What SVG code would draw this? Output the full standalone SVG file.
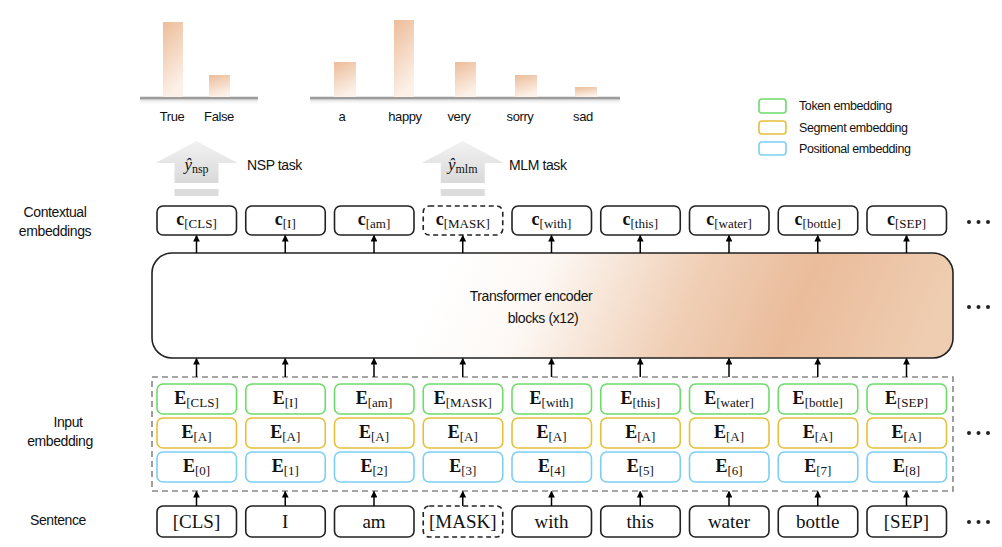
<svg xmlns="http://www.w3.org/2000/svg" width="1002" height="547" viewBox="0 0 1002 547">
<defs>
<linearGradient id="bar" x1="0" y1="0" x2="0.3" y2="1">
<stop offset="0" stop-color="#ecbc99"/>
<stop offset="1" stop-color="#fcf1e8"/>
</linearGradient>
<linearGradient id="tf" gradientUnits="userSpaceOnUse" x1="470" y1="210" x2="900" y2="400">
<stop offset="0" stop-color="#ffffff"/>
<stop offset="0.2" stop-color="#fdf8f4"/>
<stop offset="0.5" stop-color="#f0cfb6"/>
<stop offset="0.72" stop-color="#eabc9b"/>
<stop offset="1" stop-color="#efcdb1"/>
</linearGradient>
<linearGradient id="big" x1="0" y1="0" x2="0" y2="1">
<stop offset="0" stop-color="#f2f2f2"/>
<stop offset="1" stop-color="#d9d9d9"/>
</linearGradient>
<marker id="ah" viewBox="0 0 10 10" refX="9" refY="5" markerWidth="4.5" markerHeight="4.5" orient="auto">
<path d="M0,0 L10,5 L0,10 z" fill="#000"/>
</marker>
<linearGradient id="shadow" x1="0" y1="0" x2="0" y2="1">
<stop offset="0" stop-color="#d4d4d4"/>
<stop offset="1" stop-color="#ffffff" stop-opacity="0"/>
</linearGradient>
</defs>
<style>
.sans{font-family:"Liberation Sans",Arial,sans-serif;fill:#111;letter-spacing:-0.4px}
.lbl{font-size:14px}
.ser{font-family:"Liberation Serif","Times New Roman",serif;fill:#111}
.box{fill:#fff;stroke:#222;stroke-width:1.6}
.dbox{fill:#fff;stroke:#222;stroke-width:1.6;stroke-dasharray:5,3.5}
.tok{fill:#fff;stroke:#6edc6a;stroke-width:1.6}
.seg{fill:#fff;stroke:#e6c03a;stroke-width:1.6}
.pos{fill:#fff;stroke:#7ccff2;stroke-width:1.6}
.arr{stroke:#000;stroke-width:1.5;fill:none;marker-end:url(#ah)}
.sym{font-size:18px;font-weight:bold}
.sub{font-size:13px}
.sent{font-size:19px}
.dots{fill:#222}
</style>

<!-- Bar charts -->
<g id="nsp-chart">
<rect x="140" y="99" width="118" height="6" fill="url(#shadow)"/>
<line x1="140" y1="98" x2="258" y2="98" stroke="#9c9c9c" stroke-width="2.5"/>
<rect x="163" y="22" width="20" height="75" fill="url(#bar)"/>
<rect x="209" y="75" width="21" height="22" fill="url(#bar)"/>
<text x="172" y="121" text-anchor="middle" class="sans" font-size="13">True</text>
<text x="219" y="121" text-anchor="middle" class="sans" font-size="13">False</text>
</g>
<g id="mlm-chart">
<rect x="310" y="99" width="310" height="6" fill="url(#shadow)"/>
<line x1="310" y1="98" x2="620" y2="98" stroke="#9c9c9c" stroke-width="2.5"/>
<rect x="334" y="62" width="22" height="35" fill="url(#bar)"/>
<rect x="394" y="20" width="20" height="77" fill="url(#bar)"/>
<rect x="455" y="62" width="21" height="35" fill="url(#bar)"/>
<rect x="515" y="75" width="22" height="22" fill="url(#bar)"/>
<rect x="575" y="87" width="22" height="10" fill="url(#bar)"/>
<text x="342" y="121" text-anchor="middle" class="sans" font-size="13">a</text>
<text x="405" y="121" text-anchor="middle" class="sans" font-size="13">happy</text>
<text x="459" y="121" text-anchor="middle" class="sans" font-size="13">very</text>
<text x="520" y="121" text-anchor="middle" class="sans" font-size="13">sorry</text>
<text x="583" y="121" text-anchor="middle" class="sans" font-size="13">sad</text>
</g>

<!-- Legend -->
<g id="legend">
<rect x="759" y="99" width="27" height="14" rx="3" class="tok"/>
<rect x="759" y="121" width="27" height="13" rx="3" class="seg"/>
<rect x="759" y="142" width="27" height="13" rx="3" class="pos"/>
<text x="799" y="110" class="sans" font-size="12.5">Token embedding</text>
<text x="799" y="132" class="sans" font-size="12.5">Segment embedding</text>
<text x="799" y="153" class="sans" font-size="12.5">Positional embedding</text>
</g>

<!-- Task arrows -->
<g id="nsp-task">
<path d="M196.5,141 L237.5,163 L218.5,163 L218.5,183 L174.5,183 L174.5,163 L155.5,163 Z" fill="url(#big)"/>
<rect x="174.5" y="189" width="44" height="7" fill="#dcdcdc"/>
<text x="196.5" y="170" text-anchor="middle" class="ser"><tspan font-size="17" font-style="italic">ŷ</tspan><tspan font-size="12" dy="3">nsp</tspan></text>
<text x="247" y="170" class="sans lbl">NSP task</text>
</g>
<g id="mlm-task">
<path d="M462.75,141 L503.75,163 L484.75,163 L484.75,183 L440.75,183 L440.75,163 L421.75,163 Z" fill="url(#big)"/>
<rect x="440.75" y="189" width="44" height="7" fill="#dcdcdc"/>
<text x="462.75" y="170" text-anchor="middle" class="ser"><tspan font-size="17" font-style="italic">ŷ</tspan><tspan font-size="12" dy="3">mlm</tspan></text>
<text x="509" y="170" class="sans lbl">MLM task</text>
</g>

<!-- Row labels -->
<g id="row-labels">
<text x="55" y="217" text-anchor="middle" class="sans lbl">Contextual</text>
<text x="55" y="236" text-anchor="middle" class="sans lbl">embeddings</text>
<text x="68" y="427" text-anchor="middle" class="sans lbl">Input</text>
<text x="60" y="446" text-anchor="middle" class="sans lbl">embedding</text>
<text x="58" y="525" text-anchor="middle" class="sans lbl">Sentence</text>
</g>

<!-- Contextual embeddings -->
<g id="ctx">
<g id="c0"><rect x="157" y="206" width="79.5" height="29" rx="6" class="box"/><text x="196.5" y="225" text-anchor="middle" class="ser"><tspan class="sym">c</tspan><tspan class="sub" dy="3">[CLS]</tspan></text></g>
<g id="c1"><rect x="245.75" y="206" width="79.5" height="29" rx="6" class="box"/><text x="285.25" y="225" text-anchor="middle" class="ser"><tspan class="sym">c</tspan><tspan class="sub" dy="3">[I]</tspan></text></g>
<g id="c2"><rect x="334.5" y="206" width="79.5" height="29" rx="6" class="box"/><text x="374" y="225" text-anchor="middle" class="ser"><tspan class="sym">c</tspan><tspan class="sub" dy="3">[am]</tspan></text></g>
<g id="c3"><rect x="423.25" y="206" width="79.5" height="29" rx="6" class="dbox"/><text x="462.75" y="225" text-anchor="middle" class="ser"><tspan class="sym">c</tspan><tspan class="sub" dy="3">[MASK]</tspan></text></g>
<g id="c4"><rect x="512" y="206" width="79.5" height="29" rx="6" class="box"/><text x="551.5" y="225" text-anchor="middle" class="ser"><tspan class="sym">c</tspan><tspan class="sub" dy="3">[with]</tspan></text></g>
<g id="c5"><rect x="600.75" y="206" width="79.5" height="29" rx="6" class="box"/><text x="640.25" y="225" text-anchor="middle" class="ser"><tspan class="sym">c</tspan><tspan class="sub" dy="3">[this]</tspan></text></g>
<g id="c6"><rect x="689.5" y="206" width="79.5" height="29" rx="6" class="box"/><text x="729" y="225" text-anchor="middle" class="ser"><tspan class="sym">c</tspan><tspan class="sub" dy="3">[water]</tspan></text></g>
<g id="c7"><rect x="778.25" y="206" width="79.5" height="29" rx="6" class="box"/><text x="817.75" y="225" text-anchor="middle" class="ser"><tspan class="sym">c</tspan><tspan class="sub" dy="3">[bottle]</tspan></text></g>
<g id="c8"><rect x="867" y="206" width="79.5" height="29" rx="6" class="box"/><text x="906.5" y="225" text-anchor="middle" class="ser"><tspan class="sym">c</tspan><tspan class="sub" dy="3">[SEP]</tspan></text></g>
</g>

<!-- Transformer -->
<g id="transformer">
<rect x="152" y="253" width="801" height="105" rx="20" fill="url(#tf)" stroke="#222" stroke-width="1.6"/>
<text x="531" y="301" text-anchor="middle" class="sans lbl">Transformer encoder</text>
<text x="543" y="323" text-anchor="middle" class="sans lbl">blocks (x12)</text>
</g>

<!-- Input embeddings -->
<g id="input-embedding">
<rect x="152" y="377" width="801" height="114" fill="none" stroke="#888" stroke-width="1.6" stroke-dasharray="6,4"/>
<g id="e0">
<rect x="157" y="384" width="79.5" height="30" rx="6" class="tok"/><text x="196.5" y="404" text-anchor="middle" class="ser"><tspan class="sym">E</tspan><tspan class="sub" dy="3">[CLS]</tspan></text>
<rect x="157" y="418" width="79.5" height="30" rx="6" class="seg"/><text x="196.5" y="438" text-anchor="middle" class="ser"><tspan class="sym">E</tspan><tspan class="sub" dy="3">[A]</tspan></text>
<rect x="157" y="452" width="79.5" height="30" rx="6" class="pos"/><text x="196.5" y="472" text-anchor="middle" class="ser"><tspan class="sym">E</tspan><tspan class="sub" dy="3">[0]</tspan></text>
</g>
<g id="e1">
<rect x="245.75" y="384" width="79.5" height="30" rx="6" class="tok"/><text x="285.25" y="404" text-anchor="middle" class="ser"><tspan class="sym">E</tspan><tspan class="sub" dy="3">[I]</tspan></text>
<rect x="245.75" y="418" width="79.5" height="30" rx="6" class="seg"/><text x="285.25" y="438" text-anchor="middle" class="ser"><tspan class="sym">E</tspan><tspan class="sub" dy="3">[A]</tspan></text>
<rect x="245.75" y="452" width="79.5" height="30" rx="6" class="pos"/><text x="285.25" y="472" text-anchor="middle" class="ser"><tspan class="sym">E</tspan><tspan class="sub" dy="3">[1]</tspan></text>
</g>
<g id="e2">
<rect x="334.5" y="384" width="79.5" height="30" rx="6" class="tok"/><text x="374" y="404" text-anchor="middle" class="ser"><tspan class="sym">E</tspan><tspan class="sub" dy="3">[am]</tspan></text>
<rect x="334.5" y="418" width="79.5" height="30" rx="6" class="seg"/><text x="374" y="438" text-anchor="middle" class="ser"><tspan class="sym">E</tspan><tspan class="sub" dy="3">[A]</tspan></text>
<rect x="334.5" y="452" width="79.5" height="30" rx="6" class="pos"/><text x="374" y="472" text-anchor="middle" class="ser"><tspan class="sym">E</tspan><tspan class="sub" dy="3">[2]</tspan></text>
</g>
<g id="e3">
<rect x="423.25" y="384" width="79.5" height="30" rx="6" class="tok"/><text x="462.75" y="404" text-anchor="middle" class="ser"><tspan class="sym">E</tspan><tspan class="sub" dy="3">[MASK]</tspan></text>
<rect x="423.25" y="418" width="79.5" height="30" rx="6" class="seg"/><text x="462.75" y="438" text-anchor="middle" class="ser"><tspan class="sym">E</tspan><tspan class="sub" dy="3">[A]</tspan></text>
<rect x="423.25" y="452" width="79.5" height="30" rx="6" class="pos"/><text x="462.75" y="472" text-anchor="middle" class="ser"><tspan class="sym">E</tspan><tspan class="sub" dy="3">[3]</tspan></text>
</g>
<g id="e4">
<rect x="512" y="384" width="79.5" height="30" rx="6" class="tok"/><text x="551.5" y="404" text-anchor="middle" class="ser"><tspan class="sym">E</tspan><tspan class="sub" dy="3">[with]</tspan></text>
<rect x="512" y="418" width="79.5" height="30" rx="6" class="seg"/><text x="551.5" y="438" text-anchor="middle" class="ser"><tspan class="sym">E</tspan><tspan class="sub" dy="3">[A]</tspan></text>
<rect x="512" y="452" width="79.5" height="30" rx="6" class="pos"/><text x="551.5" y="472" text-anchor="middle" class="ser"><tspan class="sym">E</tspan><tspan class="sub" dy="3">[4]</tspan></text>
</g>
<g id="e5">
<rect x="600.75" y="384" width="79.5" height="30" rx="6" class="tok"/><text x="640.25" y="404" text-anchor="middle" class="ser"><tspan class="sym">E</tspan><tspan class="sub" dy="3">[this]</tspan></text>
<rect x="600.75" y="418" width="79.5" height="30" rx="6" class="seg"/><text x="640.25" y="438" text-anchor="middle" class="ser"><tspan class="sym">E</tspan><tspan class="sub" dy="3">[A]</tspan></text>
<rect x="600.75" y="452" width="79.5" height="30" rx="6" class="pos"/><text x="640.25" y="472" text-anchor="middle" class="ser"><tspan class="sym">E</tspan><tspan class="sub" dy="3">[5]</tspan></text>
</g>
<g id="e6">
<rect x="689.5" y="384" width="79.5" height="30" rx="6" class="tok"/><text x="729" y="404" text-anchor="middle" class="ser"><tspan class="sym">E</tspan><tspan class="sub" dy="3">[water]</tspan></text>
<rect x="689.5" y="418" width="79.5" height="30" rx="6" class="seg"/><text x="729" y="438" text-anchor="middle" class="ser"><tspan class="sym">E</tspan><tspan class="sub" dy="3">[A]</tspan></text>
<rect x="689.5" y="452" width="79.5" height="30" rx="6" class="pos"/><text x="729" y="472" text-anchor="middle" class="ser"><tspan class="sym">E</tspan><tspan class="sub" dy="3">[6]</tspan></text>
</g>
<g id="e7">
<rect x="778.25" y="384" width="79.5" height="30" rx="6" class="tok"/><text x="817.75" y="404" text-anchor="middle" class="ser"><tspan class="sym">E</tspan><tspan class="sub" dy="3">[bottle]</tspan></text>
<rect x="778.25" y="418" width="79.5" height="30" rx="6" class="seg"/><text x="817.75" y="438" text-anchor="middle" class="ser"><tspan class="sym">E</tspan><tspan class="sub" dy="3">[A]</tspan></text>
<rect x="778.25" y="452" width="79.5" height="30" rx="6" class="pos"/><text x="817.75" y="472" text-anchor="middle" class="ser"><tspan class="sym">E</tspan><tspan class="sub" dy="3">[7]</tspan></text>
</g>
<g id="e8">
<rect x="867" y="384" width="79.5" height="30" rx="6" class="tok"/><text x="906.5" y="404" text-anchor="middle" class="ser"><tspan class="sym">E</tspan><tspan class="sub" dy="3">[SEP]</tspan></text>
<rect x="867" y="418" width="79.5" height="30" rx="6" class="seg"/><text x="906.5" y="438" text-anchor="middle" class="ser"><tspan class="sym">E</tspan><tspan class="sub" dy="3">[A]</tspan></text>
<rect x="867" y="452" width="79.5" height="30" rx="6" class="pos"/><text x="906.5" y="472" text-anchor="middle" class="ser"><tspan class="sym">E</tspan><tspan class="sub" dy="3">[8]</tspan></text>
</g>
</g>

<!-- Sentence -->
<g id="sentence">
<g id="s0"><rect x="157" y="506" width="79.5" height="31" rx="6" class="box"/><text x="196.5" y="528" text-anchor="middle" class="ser sent">[CLS]</text></g>
<g id="s1"><rect x="245.75" y="506" width="79.5" height="31" rx="6" class="box"/><text x="285.25" y="528" text-anchor="middle" class="ser sent">I</text></g>
<g id="s2"><rect x="334.5" y="506" width="79.5" height="31" rx="6" class="box"/><text x="374" y="528" text-anchor="middle" class="ser sent">am</text></g>
<g id="s3"><rect x="423.25" y="506" width="79.5" height="31" rx="6" class="dbox"/><text x="462.75" y="528" text-anchor="middle" class="ser sent">[MASK]</text></g>
<g id="s4"><rect x="512" y="506" width="79.5" height="31" rx="6" class="box"/><text x="551.5" y="528" text-anchor="middle" class="ser sent">with</text></g>
<g id="s5"><rect x="600.75" y="506" width="79.5" height="31" rx="6" class="box"/><text x="640.25" y="528" text-anchor="middle" class="ser sent">this</text></g>
<g id="s6"><rect x="689.5" y="506" width="79.5" height="31" rx="6" class="box"/><text x="729" y="528" text-anchor="middle" class="ser sent">water</text></g>
<g id="s7"><rect x="778.25" y="506" width="79.5" height="31" rx="6" class="box"/><text x="817.75" y="528" text-anchor="middle" class="ser sent">bottle</text></g>
<g id="s8"><rect x="867" y="506" width="79.5" height="31" rx="6" class="box"/><text x="906.5" y="528" text-anchor="middle" class="ser sent">[SEP]</text></g>
</g>

<!-- Ellipses -->
<g id="ellipses" class="dots">
<circle cx="969" cy="222" r="2"/><circle cx="978.5" cy="222" r="2"/><circle cx="988" cy="222" r="2"/>
<circle cx="969" cy="307" r="2"/><circle cx="978.5" cy="307" r="2"/><circle cx="988" cy="307" r="2"/>
<circle cx="969" cy="433" r="2"/><circle cx="978.5" cy="433" r="2"/><circle cx="988" cy="433" r="2"/>
<circle cx="969" cy="522" r="2"/><circle cx="978.5" cy="522" r="2"/><circle cx="988" cy="522" r="2"/>
</g>

<!-- Connectors -->
<g id="connectors">
<line class="arr" x1="196.5" y1="506" x2="196.5" y2="491.5"/>
<line class="arr" x1="285.25" y1="506" x2="285.25" y2="491.5"/>
<line class="arr" x1="374" y1="506" x2="374" y2="491.5"/>
<line class="arr" x1="462.75" y1="506" x2="462.75" y2="491.5"/>
<line class="arr" x1="551.5" y1="506" x2="551.5" y2="491.5"/>
<line class="arr" x1="640.25" y1="506" x2="640.25" y2="491.5"/>
<line class="arr" x1="729" y1="506" x2="729" y2="491.5"/>
<line class="arr" x1="817.75" y1="506" x2="817.75" y2="491.5"/>
<line class="arr" x1="906.5" y1="506" x2="906.5" y2="491.5"/>

<line class="arr" x1="196.5" y1="377" x2="196.5" y2="358.5"/>
<line class="arr" x1="285.25" y1="377" x2="285.25" y2="358.5"/>
<line class="arr" x1="374" y1="377" x2="374" y2="358.5"/>
<line class="arr" x1="462.75" y1="377" x2="462.75" y2="358.5"/>
<line class="arr" x1="551.5" y1="377" x2="551.5" y2="358.5"/>
<line class="arr" x1="640.25" y1="377" x2="640.25" y2="358.5"/>
<line class="arr" x1="729" y1="377" x2="729" y2="358.5"/>
<line class="arr" x1="817.75" y1="377" x2="817.75" y2="358.5"/>
<line class="arr" x1="906.5" y1="377" x2="906.5" y2="358.5"/>

<line class="arr" x1="196.5" y1="253" x2="196.5" y2="235.5"/>
<line class="arr" x1="285.25" y1="253" x2="285.25" y2="235.5"/>
<line class="arr" x1="374" y1="253" x2="374" y2="235.5"/>
<line class="arr" x1="462.75" y1="253" x2="462.75" y2="235.5"/>
<line class="arr" x1="551.5" y1="253" x2="551.5" y2="235.5"/>
<line class="arr" x1="640.25" y1="253" x2="640.25" y2="235.5"/>
<line class="arr" x1="729" y1="253" x2="729" y2="235.5"/>
<line class="arr" x1="817.75" y1="253" x2="817.75" y2="235.5"/>
<line class="arr" x1="906.5" y1="253" x2="906.5" y2="235.5"/>
</g>
</svg>
